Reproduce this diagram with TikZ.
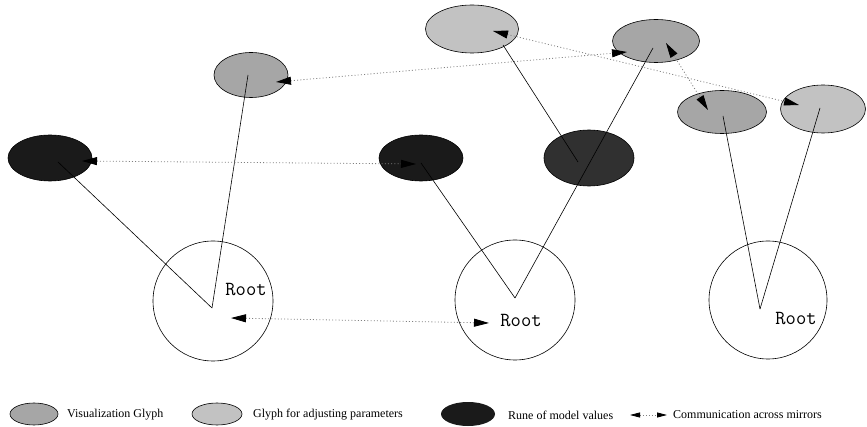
\documentclass[tikz,border=0pt]{standalone}
\usepackage{fontspec}
\setmainfont{Liberation Serif}
\usetikzlibrary{shapes.geometric,arrows.meta}
\definecolor{vis}{HTML}{A6A6A6}
\definecolor{adj}{HTML}{C2C2C2}
\definecolor{rune}{HTML}{1A1A1A}
\definecolor{rune2}{HTML}{303030}
\tikzset{
  glyph/.style={ellipse,draw=black,line width=0.6pt,inner sep=0pt},
  rootc/.style={circle,draw=black,line width=0.6pt,fill=white,inner sep=0pt,minimum size=120pt},
  rtext/.style={font=\ttfamily\fontsize{20}{24}\selectfont,inner sep=0pt},
  link/.style={line width=0.6pt,black},
  comm/.style={draw=gray,line width=0.8pt,dash pattern=on 1pt off 2.2pt,
    {Triangle[length=15pt,width=8pt,black]}-{Triangle[length=15pt,width=8pt,black]}},
  legcomm/.style={draw=gray,line width=0.8pt,dash pattern=on 1pt off 2pt,
    {Triangle[length=10pt,width=5pt,black]}-{Triangle[length=10pt,width=5pt,black]}},
  legtext/.style={font=\fontsize{12}{14}\selectfont,anchor=west,inner sep=0pt}
}
\begin{document}
\begin{tikzpicture}[x=1pt,y=-1pt]
\useasboundingbox (0,0) rectangle (867,427);
% root circles
\node[rootc] (c1) at (213,301) {};
\node[rootc] (c2) at (515,300) {};
\node[rootc,minimum size=118pt] (c3) at (768,300) {};
\node[rtext] (r1) at (246,290) {Root};
\node[rtext] (r2) at (521,321) {Root};
\node[rtext] (r3) at (796,319) {Root};
% glyphs
\node[glyph,fill=rune,minimum width=84pt,minimum height=46pt] (e1) at (50,158) {};
\node[glyph,fill=rune,minimum width=84pt,minimum height=46pt] (e2) at (421,158) {};
\node[glyph,fill=rune2,minimum width=90pt,minimum height=56pt] (e3) at (589,158) {};
\node[glyph,fill=vis,minimum width=74pt,minimum height=45pt] (e4) at (251,75) {};
\node[glyph,fill=adj,minimum width=93pt,minimum height=48pt] (e5) at (472,29) {};
\node[glyph,fill=vis,minimum width=87pt,minimum height=43pt] (e6) at (656,41) {};
\node[glyph,fill=vis,minimum width=89pt,minimum height=43pt] (e7) at (722,112) {};
\node[glyph,fill=adj,minimum width=85pt,minimum height=48pt] (e8) at (823,109) {};
% link end points
\coordinate (p1) at (212,308);
\coordinate (p2) at (515,298);
\coordinate (p3) at (760,309);
\coordinate (q1) at (58,162);
\coordinate (q4) at (248,75);
\coordinate (q2) at (421,163);
\coordinate (q6) at (653,48);
\coordinate (q5) at (503,45);
\coordinate (q3) at (578,162);
\coordinate (q7) at (723,116);
\coordinate (q8) at (820,108);
\draw[link] (q1) -- (p1);
\draw[link] (q4) -- (p1);
\draw[link] (q2) -- (p2);
\draw[link] (q6) -- (p2);
\draw[link] (q5) -- (q3);
\draw[link] (q7) -- (p3);
\draw[link] (q8) -- (p3);
% communication arrows
\coordinate (a1) at (231,318);
\coordinate (b1) at (489,323);
\draw[comm] (a1) -- (b1);
\coordinate (a2) at (82,161);
\coordinate (b2) at (416,164);
\draw[comm] (a2) -- (b2);
\coordinate (a3) at (276,82);
\coordinate (b3) at (627,52);
\draw[comm] (a3) -- (b3);
\coordinate (a4) at (493,31);
\coordinate (b4) at (799,105);
\draw[comm] (a4) -- (b4);
\coordinate (a5) at (666,43);
\coordinate (b5) at (708,110);
\draw[comm] (a5) -- (b5);
% legend
\node[glyph,fill=vis,minimum width=48pt,minimum height=22pt] (l1) at (34,414) {};
\node[legtext] (t1) at (67,415) {Visualization Glyph};
\node[glyph,fill=adj,minimum width=50pt,minimum height=22pt] (l2) at (217,414) {};
\node[legtext] (t2) at (253,415) {Glyph for adjusting parameters};
\node[ellipse,fill=rune,inner sep=0pt,minimum width=54pt,minimum height=24pt] (l3) at (468,414) {};
\node[legtext] (t3) at (508,415) {Rune of model values};
\coordinate (la) at (630,415);
\coordinate (lb) at (667,415);
\draw[legcomm] (la) -- (lb);
\node[legtext] (t4) at (673,415) {Communication across mirrors};
\end{tikzpicture}
\end{document}
